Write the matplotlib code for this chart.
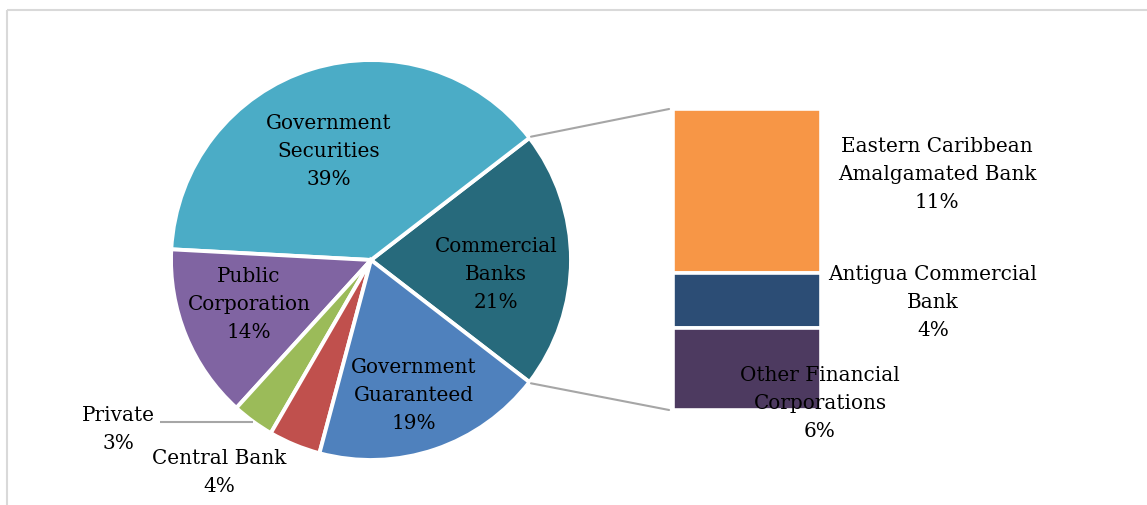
import numpy as np
import matplotlib
matplotlib.use("Agg")
import matplotlib.pyplot as plt
from matplotlib.patches import Rectangle, ConnectionPatch

# ---- data ----
pie_labels = ["Commercial\nBanks", "Government\nSecurities", "Public\nCorporation",
              "Private", "Central Bank", "Government\nGuaranteed"]
pie_values = [20.9, 38.7, 14.1, 3.4, 4.2, 18.7]
pie_colors = ["#276A7C", "#4BACC6", "#8064A2", "#9BBB59", "#C0504D", "#4F81BD"]

bar_labels = ["Eastern Caribbean\nAmalgamated Bank", "Antigua Commercial\nBank",
              "Other Financial\nCorporations"]
bar_values = [11.4, 3.8, 5.7]
bar_colors = ["#F79646", "#2C4D75", "#4D3A60"]

W, H = 1147, 506
FONT = "DejaVu Serif"
FS = 14.4
LS = 1.6

fig = plt.figure(figsize=(W / 100, H / 100), dpi=100)
fig.patch.set_facecolor("white")

def px_axes(x0, y0, w, h, **kw):
    # pixel box (top-left origin) -> figure fraction
    return fig.add_axes([x0 / W, 1 - (y0 + h) / H, w / W, h / H], **kw)

# pie axes: centre (371, 261), radius 200 px
cx, cy, R = 371, 261, 200
axp = px_axes(cx - 1.25 * R, cy - 1.25 * R, 2.5 * R, 2.5 * R)
total = sum(pie_values)
start = -pie_values[0] / total * 360 / 2
wedges, _ = axp.pie(pie_values, colors=pie_colors, startangle=start, counterclock=True,
                    radius=1.0, wedgeprops=dict(edgecolor="white", linewidth=2.8))
axp.set_xlim(-1.25, 1.25)
axp.set_ylim(-1.25, 1.25)
axp.set_aspect("auto")
axp.axis("off")

# bar axes
axb = px_axes(672, 110, 150, 301)
cum = np.concatenate([[0], np.cumsum(bar_values)[:-1]])
axb.bar([0] * len(bar_values), bar_values, bottom=cum, width=1.0, color=bar_colors,
        edgecolor="white", linewidth=2.6)
axb.set_xlim(-0.51, 0.51)
axb.set_ylim(sum(bar_values), 0)
axb.axis("off")

# overlay axes in pixel coordinates (frame, labels)
ax0 = px_axes(0, 0, W, H)
ax0.set_zorder(10)
ax0.patch.set_alpha(0)
ax0.set_xlim(0, W)
ax0.set_ylim(H, 0)
ax0.axis("off")
ax0.add_patch(Rectangle((7, 11), 1150, 520, fill=False, edgecolor="#d9d9d9", lw=1.5))

pie_label_pos = [(496, 275), (329, 151), (249, 304), (118, 430), (219, 473), (414, 396)]
for lab, v, (x, y) in zip(pie_labels, pie_values, pie_label_pos):
    ax0.text(x, y, f"{lab}\n{round(v):d}%", ha="center", va="center", fontsize=FS,
             family=FONT, color="black", linespacing=LS)

# leader line for Private
ax0.plot([160, 253], [423, 423], color="#a6a6a6", lw=1.5, solid_capstyle="butt")

bar_label_pos = [(937, 174), (933, 302), (820, 404)]
for lab, v, (x, y) in zip(bar_labels, bar_values, bar_label_pos):
    ax0.text(x, y, f"{lab}\n{round(v):d}%", ha="center", va="center", fontsize=FS,
             family=FONT, color="black", linespacing=LS)

# connection lines
theta = np.deg2rad(-start)
for sgn, yb in [(1, 0), (-1, sum(bar_values))]:
    xa, ya = 1.01 * np.cos(theta), sgn * 1.01 * np.sin(theta)
    con = ConnectionPatch(xyA=(xa, ya), coordsA=axp.transData,
                          xyB=(-0.53, yb), coordsB=axb.transData,
                          color="#a6a6a6", lw=1.5)
    fig.add_artist(con)

fig.savefig("out.png", dpi=100, facecolor="white")
